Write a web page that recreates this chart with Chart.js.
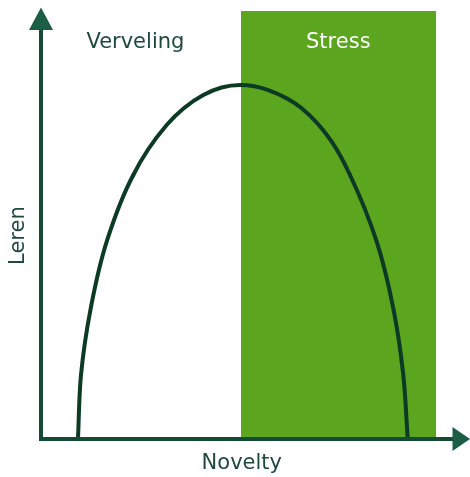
<!DOCTYPE html>
<html>
<head>
<meta charset="utf-8">
<script src="https://cdn.jsdelivr.net/npm/chart.js@4"></script>
<style>
  html, body { margin: 0; padding: 0; background: #ffffff; }
  #wrap { width: 470px; height: 477px; position: relative; }
</style>
</head>
<body>
<div id="wrap"><canvas id="c" width="470" height="477"></canvas></div>
<script>
// ---- Data (conceptual: Novelty 0-100, Leren 0-100) ----
const xAxisLabel = "Novelty";
const yAxisLabel = "Leren";
const zoneLabels = ["Verveling", "Stress"];
// Learning curve, in three overlapping pieces
// rising flank (base upwards)
const riseNovelty = [8.62, 9.32, 11.59, 15.31, 21.52, 29.30];
const riseLeren   = [0, 14.85, 30.32, 45.78, 61.25, 72.85];
// top of the arch (left to right)
const topNovelty = [15.31, 21.52, 29.30, 37.83, 46.39, 52.98, 60.77, 67.76, 72.03, 78.25];
const topLeren   = [45.78, 61.25, 72.85, 79.81, 82.13, 80.97, 76.73, 68.98, 61.25, 45.78];
// falling flank (base upwards)
const fallNovelty = [85.48, 84.45, 82.12, 78.25, 72.03, 67.76];
const fallLeren   = [0, 14.85, 30.32, 45.78, 61.25, 68.98];
// Stress zone extent
const stressNovelty = [46.6, 92.1];
const stressTop = [99.3, 99.3];
// Zone label positions (data units)
const zoneLabelNovelty = [22.0, 69.3];
const zoneLabelLeren = [92.0, 92.0];

const toPoints = (xs, ys) => xs.map((x, i) => ({ x: x, y: ys[i] }));
const riseData = toPoints(riseNovelty, riseLeren);
const topData = toPoints(topNovelty, topLeren);
const fallData = toPoints(fallNovelty, fallLeren);
const stressData = toPoints(stressNovelty, stressTop);

const axisColor = "#154b35";
const arrowColor = "#1b5e45";
const curveColor = "#0d3a25";
const stressColor = "#5ba51f";
const textColor = "#1f4a3a";
const hidden = "rgba(0,0,0,0)";
const fontFamily = "'DejaVu Sans', 'Open Sans', sans-serif";

const overlay = {
  id: "overlay",
  afterDatasetsDraw(chart) {
    const ctx = chart.ctx;
    const xs = chart.scales.x, ys = chart.scales.y;
    const x0 = xs.getPixelForValue(0), y0 = ys.getPixelForValue(0);
    const xMax = xs.getPixelForValue(100), yMax = ys.getPixelForValue(100);
    ctx.save();
    ctx.strokeStyle = axisColor;
    ctx.lineWidth = 4;
    ctx.beginPath();
    ctx.moveTo(x0, y0 + 2);
    ctx.lineTo(x0, yMax + 20);
    ctx.moveTo(x0 - 2, y0);
    ctx.lineTo(xMax - 16, y0);
    ctx.stroke();
    ctx.fillStyle = arrowColor;
    ctx.beginPath();
    ctx.moveTo(x0, yMax - 0.5);
    ctx.lineTo(x0 - 12, yMax + 22);
    ctx.lineTo(x0 + 12, yMax + 22);
    ctx.closePath();
    ctx.fill();
    ctx.beginPath();
    ctx.moveTo(xMax, y0);
    ctx.lineTo(xMax - 17.5, y0 - 12);
    ctx.lineTo(xMax - 17.5, y0 + 12);
    ctx.closePath();
    ctx.fill();
    ctx.font = "21px " + fontFamily;
    ctx.textAlign = "center";
    ctx.textBaseline = "middle";
    ctx.fillStyle = textColor;
    ctx.fillText(zoneLabels[0], xs.getPixelForValue(zoneLabelNovelty[0]), ys.getPixelForValue(zoneLabelLeren[0]));
    ctx.fillStyle = "#ffffff";
    ctx.fillText(zoneLabels[1], xs.getPixelForValue(zoneLabelNovelty[1]), ys.getPixelForValue(zoneLabelLeren[1]));
    ctx.fillStyle = textColor;
    ctx.fillText(xAxisLabel, xs.getPixelForValue(46.8), y0 + 25);
    ctx.save();
    ctx.translate(x0 - 22, ys.getPixelForValue(47.2));
    ctx.rotate(-Math.PI / 2);
    ctx.fillText(yAxisLabel, 0, 0);
    ctx.restore();
    ctx.restore();
  }
};

function curveDataset(label, data, indexAxis, hideFirst, hideLast) {
  const n = data.length;
  return {
    label: label,
    data: data,
    borderColor: curveColor,
    borderWidth: 4,
    borderCapStyle: "round",
    borderJoinStyle: "round",
    fill: false,
    pointRadius: 0,
    cubicInterpolationMode: "monotone",
    indexAxis: indexAxis,
    clip: false,
    order: 1,
    segment: {
      borderColor: (c) => ((hideFirst && c.p0DataIndex === 0) || (hideLast && c.p1DataIndex === n - 1)) ? hidden : curveColor
    }
  };
}

new Chart(document.getElementById("c"), {
  type: "line",
  data: {
    datasets: [
      {
        label: "Stress",
        data: stressData,
        borderWidth: 0,
        borderColor: stressColor,
        backgroundColor: stressColor,
        fill: "origin",
        pointRadius: 0,
        tension: 0,
        clip: false,
        order: 2
      },
      curveDataset("Leren (stijgend)", riseData, "y", false, true),
      curveDataset("Leren (top)", topData, "x", true, true),
      curveDataset("Leren (dalend)", fallData, "y", false, true)
    ]
  },
  options: {
    responsive: false,
    animation: false,
    events: [],
    layout: { padding: { left: 41, right: 0, top: 8, bottom: 38 } },
    plugins: { legend: { display: false }, tooltip: { enabled: false }, title: { display: false } },
    scales: {
      x: { type: "linear", min: 0, max: 100, display: false },
      y: { type: "linear", min: 0, max: 100, display: false }
    }
  },
  plugins: [overlay]
});
</script>
</body>
</html>
